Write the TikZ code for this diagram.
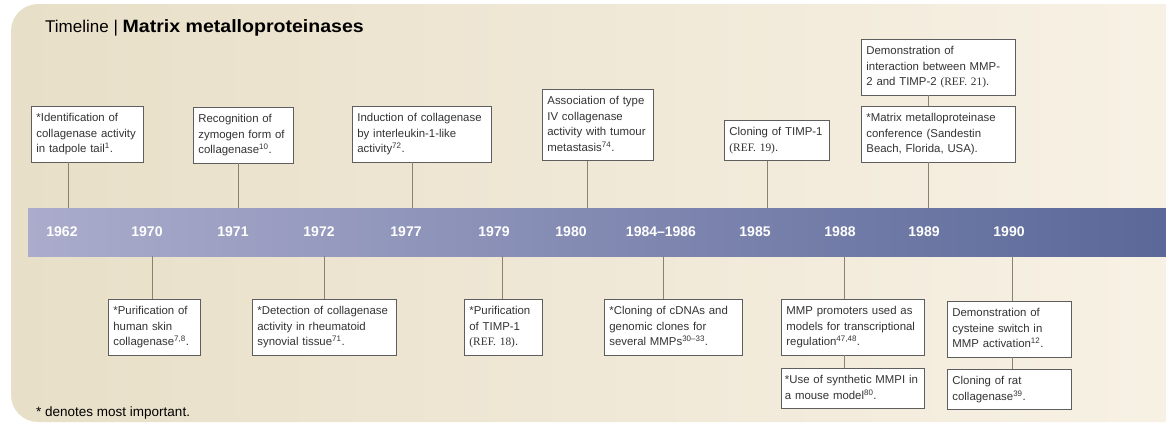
\documentclass[tikz,border=0pt]{standalone}
\usepackage{graphicx}
\usepackage{fontspec}
\setmainfont{Liberation Sans}
\newfontfamily\reffont{Liberation Serif}
\definecolor{bgL}{HTML}{E8DFC8}
\definecolor{bgR}{HTML}{F8F2E6}
\definecolor{barL}{HTML}{ABACCC}
\definecolor{barR}{HTML}{586697}
\definecolor{connc}{HTML}{8A8172}
\definecolor{boxline}{HTML}{5E5E5E}
\definecolor{txt}{HTML}{333333}
\newcommand{\rf}[1]{{\reffont #1}}
\begin{document}
\begin{tikzpicture}[x=1pt,y=-1pt,
  evbox/.style={draw=boxline, line width=0.8pt, fill=white, anchor=north west,
    align=left, inner xsep=5pt, inner ysep=4.5pt,
    font=\fontsize{11.4}{15.5}\selectfont, text=txt,
    execute at begin node=\strut, execute at end node=\strut},
  yearlbl/.style={font=\fontsize{14}{16}\selectfont\bfseries, text=white, inner sep=0},
  link/.style={draw=connc, line width=1pt}]
\useasboundingbox (0,0) rectangle (1166,424);
% background
\shade[left color=bgL, right color=bgR, rounded corners=27pt] (11,4) rectangle (1220,422);
% bar
\node[minimum width=1172pt, minimum height=48pt, inner sep=0, anchor=north west,
  left color=barL, right color=barR, draw=none] (bar) at (28,208) {};
% title
\node[anchor=base west, inner sep=0, font=\fontsize{17}{20}\selectfont, text=black] (title) at (45,32)
  {Timeline | \textbf{\scalebox{1.15}[1.05]{Matrix metalloproteinases}}};
% footnote
\node[anchor=base west, inner sep=0, font=\fontsize{13.5}{16}\selectfont, text=black] (note) at (36,416)
  {* denotes most important.};
% years
\node[yearlbl] (y1962) at (62,232) {1962};
\node[yearlbl] (y1970) at (147,232) {1970};
\node[yearlbl] (y1971) at (233,232) {1971};
\node[yearlbl] (y1972) at (319,232) {1972};
\node[yearlbl] (y1977) at (406,232) {1977};
\node[yearlbl] (y1979) at (494,232) {1979};
\node[yearlbl] (y1980) at (571,232) {1980};
\node[yearlbl] (y1984) at (661,232) {1984--1986};
\node[yearlbl] (y1985) at (755,232) {1985};
\node[yearlbl] (y1988) at (840,232) {1988};
\node[yearlbl] (y1989) at (924,232) {1989};
\node[yearlbl] (y1990) at (1009,232) {1990};
% attachment points on the bar
\coordinate (u1962) at (68,208);
\coordinate (u1971) at (238,208);
\coordinate (u1977) at (412,208);
\coordinate (u1980) at (587,208);
\coordinate (u1985) at (767,208);
\coordinate (u1989) at (928,208);
\coordinate (d1970) at (152,256);
\coordinate (d1972) at (324,256);
\coordinate (d1979) at (502,256);
\coordinate (d1984) at (663,256);
\coordinate (d1988) at (844,256);
\coordinate (d1990) at (1012,256);
% top boxes
\node[evbox, text width=102pt] (b1962) at (31,106) {*Identification of\\collagenase activity\\in tadpole tail\textsuperscript{1}.};
\node[evbox, text width=90pt] (b1971) at (193,107) {Recognition of\\zymogen form of\\collagenase\textsuperscript{10}.};
\node[evbox, text width=129pt] (b1977) at (352,106) {Induction of collagenase\\by interleukin-1-like\\activity\textsuperscript{72}.};
\node[evbox, text width=101pt] (b1980) at (542,89) {Association of type\\IV collagenase\\activity with tumour\\metastasis\textsuperscript{74}.};
\node[evbox, text width=95pt] (b1985) at (724,120) {Cloning of TIMP-1\\\rf{(REF. 19)}.};
\node[evbox, text width=144pt] (b1989a) at (861,39) {Demonstration of\\interaction between MMP-\\2 and TIMP-2 \rf{(REF. 21)}.};
\node[evbox, text width=144pt] (b1989b) at (861,106) {*Matrix metalloproteinase\\conference (Sandestin\\Beach, Florida, USA).};
% bottom boxes
\node[evbox, text width=82pt] (b1970) at (108,299) {*Purification of\\human skin\\collagenase\textsuperscript{7,8}.};
\node[evbox, text width=134pt] (b1972) at (252,299) {*Detection of collagenase\\activity in rheumatoid\\synovial tissue\textsuperscript{71}.};
\node[evbox, text width=68pt] (b1979) at (464,299) {*Purification\\of TIMP-1\\\rf{(REF. 18)}.};
\node[evbox, text width=128pt] (b1984) at (604,299) {*Cloning of cDNAs and\\genomic clones for\\several MMPs\textsuperscript{30--33}.};
\node[evbox, text width=133pt] (b1988a) at (781,299) {MMP promoters used as\\models for transcriptional\\regulation\textsuperscript{47,48}.};
\node[evbox, inner xsep=3.5pt, text width=136pt] (b1988b) at (781,368) {\hbox{*Use of synthetic MMPI in}\\a mouse model\textsuperscript{80}.};
\node[evbox, text width=114pt] (b1990a) at (947,301) {Demonstration of\\cysteine switch in\\MMP activation\textsuperscript{12}.};
\node[evbox, text width=114pt] (b1990b) at (947,369) {Cloning of rat\\collagenase\textsuperscript{39}.};
% connectors
\draw[link] (b1962.south -| u1962) -- (u1962);
\draw[link] (b1971.south -| u1971) -- (u1971);
\draw[link] (b1977.south -| u1977) -- (u1977);
\draw[link] (b1980.south -| u1980) -- (u1980);
\draw[link] (b1985.south -| u1985) -- (u1985);
\draw[link] (b1989a.south -| u1989) -- (b1989b.north -| u1989);
\draw[link] (b1989b.south -| u1989) -- (u1989);
\draw[link] (d1970) -- (b1970.north -| d1970);
\draw[link] (d1972) -- (b1972.north -| d1972);
\draw[link] (d1979) -- (b1979.north -| d1979);
\draw[link] (d1984) -- (b1984.north -| d1984);
\draw[link] (d1988) -- (b1988a.north -| d1988);
\draw[link] (b1988a.south -| d1988) -- (b1988b.north -| d1988);
\draw[link] (d1990) -- (b1990a.north -| d1990);
\draw[link] (b1990a.south -| d1990) -- (b1990b.north -| d1990);
\end{tikzpicture}
\end{document}
